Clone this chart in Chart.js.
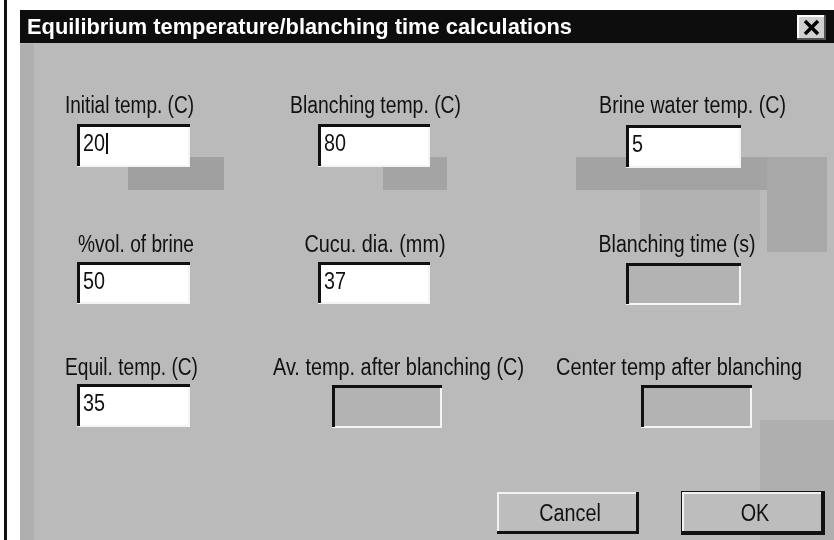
<!DOCTYPE html>
<html><head><meta charset="utf-8">
<script src="https://cdn.jsdelivr.net/npm/chart.js@4.4.1/dist/chart.umd.min.js"></script>
<style>html,body{margin:0;padding:0;background:#fff;} #wrap{width:834px;height:540px;position:relative;}</style>
</head><body><div id="wrap"><canvas id="c"></canvas></div>
<script>
// ---- content (text & values) ----
const dialogTitle = "Equilibrium temperature/blanching time calculations";
const fieldLabels = ["Initial temp. (C)", "Blanching temp. (C)", "Brine water temp. (C)",
                     "%vol. of brine", "Cucu. dia. (mm)", "Blanching time (s)",
                     "Equil. temp. (C)", "Av. temp. after blanching (C)", "Center temp after blanching"];
const fieldValues = ["20", "80", "5", "50", "37", "", "35", "", ""];
const fieldEditable = [true, true, true, true, true, false, true, false, false];
const buttonLabels = ["Cancel", "OK"];

// ---- layout (positions in dialog units, mapped through the chart scales) ----
const labelPos = [[129.5,113,129],[375.5,113,171],[692.5,113,187],
                  [136,252,116],[375,252,141],[677,252,157],
                  [131.5,375,133],[398.5,375,251],[679,375,246]];
const boxPos = [[77,124,113,43],[318,124,112,43],[626,125,115,43],
                [77,262,113,42],[318,262,112,42],[626,263,115,42],
                [77,384,113,43],[332,385,110,43],[641,385,111,43]];
const buttonPos = [[497,492,142,42],[682,492,142,42]];
const patches = [[128,157,96,33,'#a0a0a0'],[383,157,64,33,'#a4a4a4'],[576,157,251,33,'#a3a3a3'],
                 [767,157,60,95,'#a8a8a8'],[20,44,14,496,'#afafaf'],
                 [640,190,120,50,'#b2b2b2'],[760,420,74,120,'#afafaf']];

const FONT = '"Liberation Sans Narrow","Liberation Sans","DejaVu Sans Condensed",Arial,sans-serif';

const dialogPlugin = {
  id: 'dialog',
  beforeDraw(chart) {
    const ctx = chart.ctx, sx = chart.scales.x, sy = chart.scales.y;
    const X = v => sx.getPixelForValue(v), Y = v => sy.getPixelForValue(v);
    const rect = (x, y, w, h, c) => { ctx.fillStyle = c; ctx.fillRect(X(x), Y(y), X(x + w) - X(x), Y(y + h) - Y(y)); };
    const fitText = (txt, cx, base, w, font, color, align) => {
      ctx.save();
      ctx.font = font; ctx.fillStyle = color; ctx.textBaseline = 'alphabetic';
      const m = ctx.measureText(txt).width;
      const k = w ? w / m : 0.86;
      ctx.translate(X(cx), Y(base));
      ctx.scale(k, 1);
      ctx.textAlign = align || 'center';
      ctx.fillText(txt, 0, 0);
      ctx.restore();
      return m * k;
    };
    // page
    rect(0, 0, 834, 540, '#ffffff');
    rect(4, 0, 3, 540, '#111111');
    // dialog body
    rect(20, 43, 814, 497, '#bababa');
    patches.forEach(p => rect(p[0], p[1], p[2], p[3], p[4]));
    // title bar
    rect(20, 10, 814, 33, '#0d0d0d');
    fitText(dialogTitle, 27 + 545 / 2, 34, 545, 'bold 22px ' + FONT, '#ffffff');
    // close button
    rect(797, 15, 29, 25, '#d0d0d0');
    rect(797, 15, 29, 2, '#ffffff'); rect(797, 15, 2, 25, '#ffffff');
    rect(797, 38, 29, 2, '#555555'); rect(824, 15, 2, 25, '#555555');
    ctx.save();
    ctx.strokeStyle = '#000'; ctx.lineWidth = 3.5;
    ctx.beginPath();
    ctx.moveTo(X(805), Y(21)); ctx.lineTo(X(818), Y(34));
    ctx.moveTo(X(818), Y(21)); ctx.lineTo(X(805), Y(34));
    ctx.stroke(); ctx.restore();

    // fields
    fieldLabels.forEach((lab, i) => {
      const [cx, base, w] = labelPos[i];
      fitText(lab, cx, base, w, '23px ' + FONT, '#111111');
      const [bx, by, bw, bh] = boxPos[i];
      rect(bx, by, bw, bh, fieldEditable[i] ? '#ffffff' : '#b3b3b3');
      rect(bx, by + bh - 2, bw, 2, '#f4f4f4');
      rect(bx + bw - 2, by, 2, bh, '#f4f4f4');
      rect(bx, by, bw, 3, '#101010');
      rect(bx, by, 3, bh - 1, '#101010');
      if (fieldValues[i] !== '') {
        const tw = fitText(fieldValues[i], bx + 6, by + 27, 0, '23px ' + FONT, '#111111', 'left');
        if (i === 0) rect(bx + 6 + tw + 1, by + 9, 2, 21, '#111111');
      }
    });

    // buttons
    buttonLabels.forEach((b, i) => {
      const [x, y, w, h] = buttonPos[i];
      if (i === 1) { rect(x - 1, y - 1, w + 2, h + 2, '#111111'); }
      rect(x, y, w, h, '#bdbdbd');
      rect(x, y, w, 2, '#f2f2f2'); rect(x, y, 2, h, '#f2f2f2');
      rect(x, y + h - 3, w, 3, '#111111'); rect(x + w - 3, y, 3, h, '#111111');
      fitText(b, x + w / 2 + 2, y + 29, 0, '23px ' + FONT, '#111111');
    });
  }
};

new Chart(document.getElementById('c'), {
  type: 'scatter',
  data: { datasets: [{ data: boxPos.map((b, i) => ({ x: b[0] + b[2] / 2, y: b[1] + b[3] / 2, v: fieldValues[i] })), pointRadius: 0 }] },
  options: {
    responsive: true, maintainAspectRatio: false, animation: false,
    layout: { padding: 0 },
    plugins: { legend: { display: false }, tooltip: { enabled: false } },
    scales: {
      x: { type: 'linear', min: 0, max: 834, display: false },
      y: { type: 'linear', min: 0, max: 540, reverse: true, display: false }
    }
  },
  plugins: [dialogPlugin]
});
</script></body></html>
